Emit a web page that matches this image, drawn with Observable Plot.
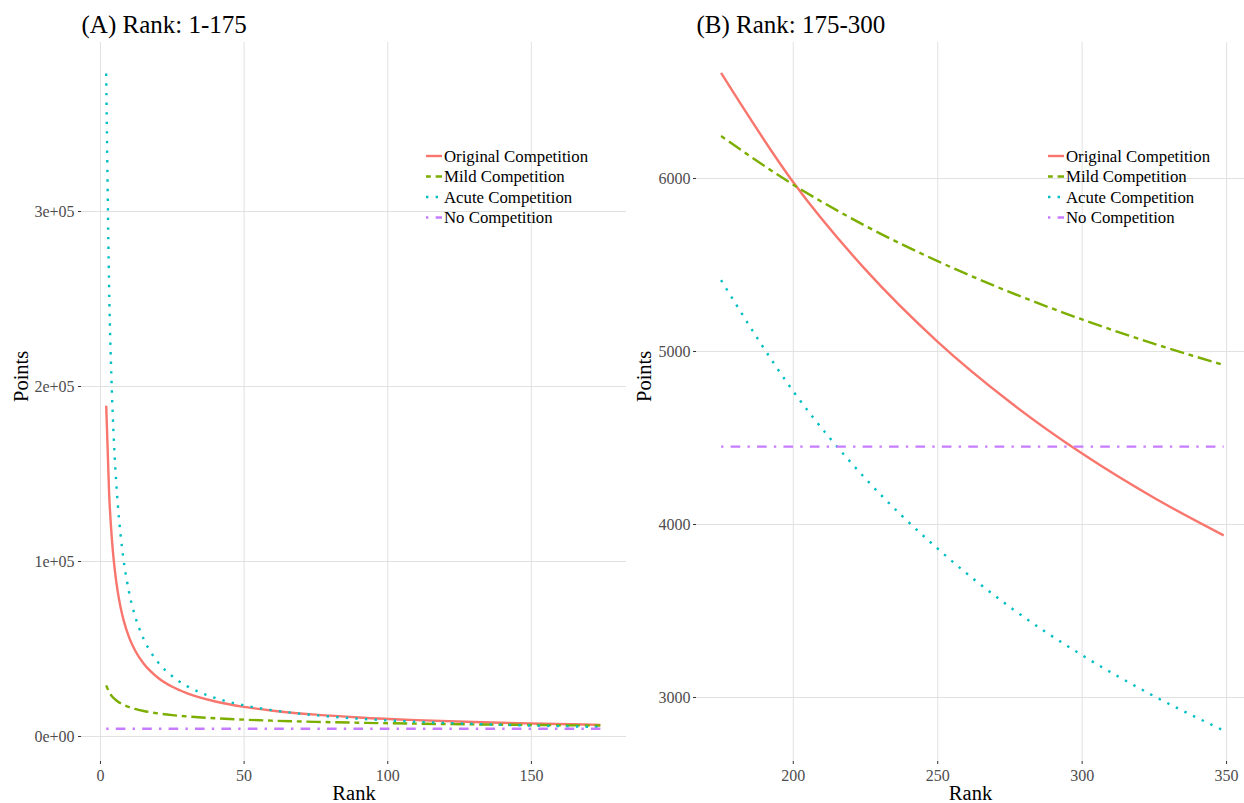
<!DOCTYPE html>
<html>
<head>
<meta charset="utf-8">
<script src="https://cdn.jsdelivr.net/npm/d3@7"></script>
<script src="https://cdn.jsdelivr.net/npm/@observablehq/plot@0.6"></script>
<style>
  html, body { margin: 0; padding: 0; background: #ffffff; }
  #chart { position: relative; width: 1244px; height: 803px; font-family: "Liberation Serif", serif; }
  #chart > div, #chart > svg { position: absolute; top: 0; }
</style>
</head>
<body>
<div id="chart"></div>
<script>
// ---------- data ----------
const seriesNames = ["Original Competition", "Mild Competition", "Acute Competition", "No Competition"];

// Panel A: ranks 1-175
const ranksA = [2, 3, 4, 5, 6, 7, 8, 10, 12, 15, 20, 25, 30, 40, 50, 60, 75, 90, 110, 130, 150, 174];
const originalA = [189000, 139500, 112400, 95100, 82900, 73900, 66800, 56500, 49300, 41700, 33600, 28400, 24800, 20000, 16900, 14750, 12470, 10880, 9360, 8260, 7420, 6640];
const mildA = [29200, 25400, 23000, 21300, 20000, 18960, 18100, 16760, 15740, 14580, 13200, 12220, 11480, 10390, 9620, 9040, 8370, 7860, 7330, 6920, 6590, 6260];
const acuteA = [378800, 257700, 196100, 158600, 133400, 115200, 101500, 82100, 69000, 55900, 42500, 34400, 28900, 22000, 17800, 14970, 12110, 10180, 8410, 7180, 6270, 5450];
const noneA = [4450, 4450, 4450, 4450, 4450, 4450, 4450, 4450, 4450, 4450, 4450, 4450, 4450, 4450, 4450, 4450, 4450, 4450, 4450, 4450, 4450, 4450];

// Panel B: ranks 175-300+
const ranksB = [175, 200, 225, 250, 275, 300, 325, 349];
const originalB = [6610, 5978, 5473, 5056, 4708, 4410, 4153, 3937];
const mildB = [6245, 5964, 5726, 5522, 5343, 5185, 5044, 4922];
const acuteB = [5413, 4770, 4265, 3860, 3523, 3244, 3007, 2809];
const noneB = [4450, 4450, 4450, 4450, 4450, 4450, 4450, 4450];

// Ticks
const xTicksA = [0, 50, 100, 150];
const yTicksA = [0, 100000, 200000, 300000];
const yTickLabelsA = ["0e+00", "1e+05", "2e+05", "3e+05"];
const xTicksB = [200, 250, 300, 350];
const yTicksB = [3000, 4000, 5000, 6000];
const yTickLabelsB = ["3000", "4000", "5000", "6000"];

const titleA = "(A) Rank: 1-175";
const titleB = "(B) Rank: 175-300";
const xLabel = "Rank";
const yLabel = "Points";

// ---------- styles ----------
const colors = ["#F8766D", "#7CAE00", "#00BFC4", "#C77CFF"];
const dashes = [null, "4.8,4.8,14.4,4.8", "2.4,7.2", "2.4,7.2,9.6,7.2"];
const LW = 2.4;
const FONT = "Liberation Serif";
const gridColor = "#dedede";

function rowsFor(ranks, seriesValues) {
  const rows = [];
  seriesValues.forEach((vals, s) => {
    ranks.forEach((r, i) => rows.push({rank: r, value: vals[i], series: seriesNames[s]}));
  });
  return rows;
}

function panel(opts) {
  const rows = rowsFor(opts.ranks, opts.values);
  const lines = seriesNames.map((name, s) =>
    Plot.line(rows.filter(d => d.series === name), {
      x: "rank", y: "value", stroke: colors[s], strokeWidth: LW,
      strokeDasharray: dashes[s] || undefined, strokeLinecap: "butt",
      strokeLinejoin: "round", curve: "monotone-x"
    })
  );
  return Plot.plot({
    width: opts.width, height: 803,
    marginTop: 42, marginBottom: 42, marginLeft: opts.marginLeft, marginRight: opts.marginRight,
    style: {fontFamily: FONT, fontSize: "16px", color: "#4d4d4d", background: "transparent", overflow: "visible"},
    x: {domain: opts.xDomain},
    y: {domain: opts.yDomain},
    marks: [
      Plot.gridX(opts.xTicks, {stroke: gridColor, strokeOpacity: 1, strokeWidth: 0.9}),
      Plot.gridY(opts.yTicks, {stroke: gridColor, strokeOpacity: 1, strokeWidth: 0.9}),
      Plot.axisX(opts.xTicks, {tickSize: 3, tickPadding: 5, fontSize: 16, label: null, stroke: "#333"}),
      Plot.axisY(opts.yTicks, {tickSize: 3, tickPadding: opts.yPad, fontSize: 16, label: null,
        tickFormat: (d, i) => opts.yLabels[opts.yTicks.indexOf(d)], stroke: "#333"}),
      ...lines,
      Plot.text([opts.title], {frameAnchor: "top-left", dy: -17.5, textAnchor: "start", lineAnchor: "middle",
        fontSize: 25, fill: "black"}),
      Plot.text([xLabel], {frameAnchor: "bottom", dy: 31.5, lineAnchor: "middle", fontSize: 20.5, fill: "black"}),
      Plot.text([yLabel], {frameAnchor: "left", dx: opts.yLabelDx, rotate: -90, lineAnchor: "middle",
        fontSize: 20.5, fill: "black"})
    ]
  });
}

const chart = document.getElementById("chart");

const left = panel({
  ranks: ranksA, values: [originalA, mildA, acuteA, noneA],
  width: 628, marginLeft: 81, marginRight: 2,
  xDomain: [-6.6, 183.1], yDomain: [-14286, 396571],
  xTicks: xTicksA, yTicks: yTicksA, yLabels: yTickLabelsA, yPad: 4,
  title: titleA, yLabelDx: -60
});
left.style.position = "absolute"; left.style.left = "0px"; left.style.top = "0px";
chart.appendChild(left);

const right = panel({
  ranks: ranksB, values: [originalB, mildB, acuteB, noneB],
  width: 616, marginLeft: 68, marginRight: 0,
  xDomain: [166.5, 356.2], yDomain: [2630, 6786],
  xTicks: xTicksB, yTicks: yTicksB, yLabels: yTickLabelsB, yPad: 3,
  title: titleB, yLabelDx: -52
});
right.style.position = "absolute"; right.style.left = "628px"; right.style.top = "0px";
chart.appendChild(right);

// ---------- legends (inside each panel) ----------
function legend(x0, y0) {
  const svg = d3.select(chart).append("svg")
    .attr("width", 200).attr("height", 90)
    .style("position", "absolute").style("left", x0 + "px").style("top", y0 + "px");
  seriesNames.forEach((name, i) => {
    const cy = 10 + i * 20.5;
    svg.append("line").attr("x1", 0).attr("x2", 16).attr("y1", cy).attr("y2", cy)
      .attr("stroke", colors[i]).attr("stroke-width", LW)
      .attr("stroke-dasharray", dashes[i]).attr("stroke-linecap", "butt");
    svg.append("text").attr("x", 18).attr("y", cy).attr("dy", "0.33em")
      .attr("font-family", FONT).attr("font-size", 16.8).attr("fill", "black").text(name);
  });
}
legend(426, 145.5);
legend(1048, 145.5);
</script>
</body>
</html>
